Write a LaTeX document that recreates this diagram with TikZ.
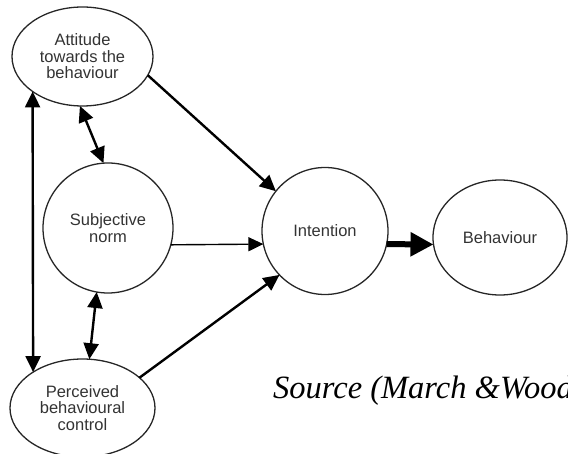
\documentclass[tikz,border=0pt]{standalone}
\usepackage{fontspec}
\setmainfont{Liberation Sans}
\newfontfamily\srcfont{Liberation Serif}
\usetikzlibrary{shapes.geometric,arrows.meta}
\begin{document}
\begin{tikzpicture}[x=1pt,y=-1pt,
  construct/.style={ellipse,draw=black!85,line width=1.3pt,inner sep=0pt,outer sep=0pt,align=center,text=black!80,font=\fontsize{16.5}{16.5}\selectfont},
  head/.style={},
  link/.style={line width=2.4pt,-{Triangle[length=16pt,width=15pt]}},
  thinlink/.style={line width=1.4pt,-{Triangle[length=15pt,width=14pt]}},
  dlink/.style={line width=2.4pt,{Triangle[length=16pt,width=15pt]}-{Triangle[length=16pt,width=15pt]}},
  biglink/.style={line width=6pt,-{Triangle[length=23pt,width=23pt]}},
  srctext/.style={font=\srcfont\itshape\fontsize{32.5}{36}\selectfont,anchor=base west,inner sep=0pt}
]
\useasboundingbox (0,0) rectangle (568,454);
\node[construct,minimum width=141pt,minimum height=99pt] (att) at (82.5,56.5) {Attitude\\towards the\\behaviour};
\node[construct,minimum width=130pt,minimum height=130pt] (subj) at (108,228) {Subjective\\norm};
\node[construct,minimum width=145pt,minimum height=98pt] (perc) at (82.5,408) {Perceived\\behavioural\\control};
\node[construct,minimum width=126pt,minimum height=127pt] (int) at (325,231) {Intention};
\node[construct,minimum width=134pt,minimum height=115pt] (beh) at (500,237.5) {Behaviour};
\node[srctext] (src) at (273,399) {Source (March \&Wood};

\draw[dlink] (att.215.4) -- (perc.144.1);
\draw[dlink] (att.267) -- (subj.94.5);
\draw[dlink] (subj.260.5) -- (perc.82.7);
\draw[link] (att.-16.8) -- (int.141.6);
\draw[thinlink] (subj.-15.2) -- (int.192.9);
\draw[link] (perc.28.4) -- (int.224.4);
\draw[biglink] (int.-12.9) -- (beh.186.4);
\end{tikzpicture}
\end{document}
